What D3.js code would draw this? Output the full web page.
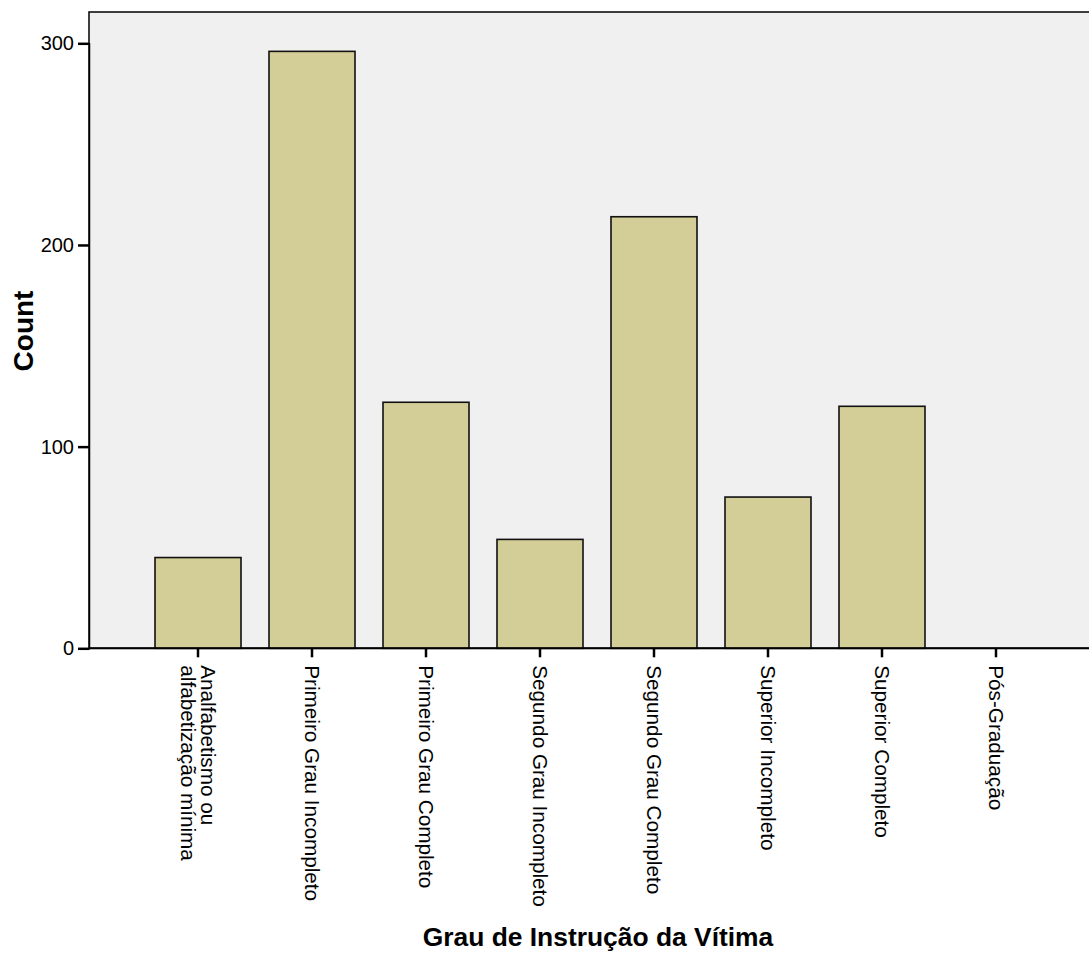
<!DOCTYPE html>
<html><head><meta charset="utf-8">
<script src="https://cdn.jsdelivr.net/npm/d3@7"></script>
<style>body{margin:0;background:#fff}svg{display:block}text{font-family:"Liberation Sans",Arial,sans-serif}</style>
</head><body>
<script>
const categories = [
  ["Analfabetismo ou", "alfabetização mínima"],
  ["Primeiro Grau Incompleto"],
  ["Primeiro Grau Completo"],
  ["Segundo Grau Incompleto"],
  ["Segundo Grau Completo"],
  ["Superior Incompleto"],
  ["Superior Completo"],
  ["Pós-Graduação"]
];
const counts = [45, 296, 122, 54, 214, 75, 120, 0];
const yTicks = [0, 100, 200, 300];
const xTitle = "Grau de Instrução da Vítima";
const yTitle = "Count";

(function () {
const W = 1089, H = 954;
const pL = 89, pT = 12, pB = 648.3, pR = 1105;
const keys = categories.map(c => c.join(" "));
const data = keys.map((k, i) => ({key: k, lines: categories[i], v: counts[i]}));

const svg = d3.select("body").append("svg").attr("width", W).attr("height", H);

const x = d3.scaleBand().domain(keys).range([pL, pR]).paddingInner(0.2456).paddingOuter(0.579);
const y = d3.scaleLinear().domain([0, 300]).range([pB, 43.3]);

svg.append("rect").attr("x", pL).attr("y", pT).attr("width", pR - pL).attr("height", pB - pT)
  .attr("fill", "#f0f0f0").attr("stroke", "#000").attr("stroke-width", 1.5);

svg.selectAll("rect.bar").data(data).join("rect").attr("class", "bar")
  .attr("x", d => x(d.key)).attr("width", x.bandwidth())
  .attr("y", d => y(d.v)).attr("height", d => pB - y(d.v))
  .attr("fill", "#d3ce97").attr("stroke", "#111").attr("stroke-width", 1.6);

const ya = svg.append("g").attr("transform", `translate(${pL},0)`)
  .call(d3.axisLeft(y).tickValues(yTicks).tickSize(11).tickPadding(4).tickFormat(d3.format("d")));
ya.attr("font-size", null).attr("font-family", null);
ya.select(".domain").attr("stroke", "#000").attr("stroke-width", 1.5);
ya.selectAll(".tick line").attr("stroke", "#000").attr("stroke-width", 2.5);
ya.selectAll(".tick text").attr("font-size", 20).attr("fill", "#000");

const xa = svg.append("g").attr("transform", `translate(0,${pB})`)
  .call(d3.axisBottom(x).tickSize(9).tickFormat(""));
xa.select(".domain").remove();
xa.selectAll(".tick line").attr("stroke", "#000").attr("stroke-width", 2.5);
svg.append("line").attr("x1", pL).attr("x2", W).attr("y1", pB).attr("y2", pB)
  .attr("stroke", "#000").attr("stroke-width", 2);

const lh = 20;
data.forEach(d => {
  const cx = x(d.key) + x.bandwidth() / 2;
  const t = svg.append("text").attr("transform", `translate(${cx},${pB + 17}) rotate(90)`)
    .attr("font-size", 20.7).attr("fill", "#000").attr("text-anchor", "start");
  const n = d.lines.length;
  d.lines.forEach((ln, j) => {
    t.append("tspan").attr("x", 0).attr("y", (j - (n - 1) / 2) * lh).attr("dy", "0.35em").text(ln);
  });
});

svg.append("text").attr("x", 598).attr("y", 946).attr("text-anchor", "middle")
  .attr("font-size", 26.4).attr("font-weight", "bold").attr("fill", "#000").text(xTitle);
svg.append("text").attr("transform", `translate(33,331) rotate(-90)`).attr("text-anchor", "middle")
  .attr("font-size", 28).attr("font-weight", "bold").attr("fill", "#000").text(yTitle);
})();
</script>
</body></html>
